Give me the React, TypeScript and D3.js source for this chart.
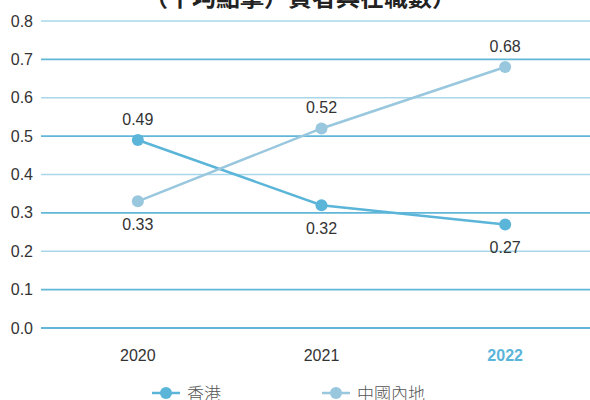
import React from 'react';
import * as d3 from 'd3';

const years = ['2020', '2021', '2022'];
const hongKong = [0.49, 0.32, 0.27];
const mainland = [0.33, 0.52, 0.68];
const yTicks = [0, 0.1, 0.2, 0.3, 0.4, 0.5, 0.6, 0.7, 0.8];
const seriesNames = ['香港', '中國內地'];

const W = 590;
const H = 400;
const DARK = '#5bb5d9';
const LIGHT = '#98c7de';
const FONT = '"Liberation Sans", Arial, sans-serif';
const CJK = '"Noto Sans CJK TC", "Noto Sans CJK SC", sans-serif';

const App: React.FC = () => {
  const x = d3.scalePoint<string>().domain(years).range([46, 597]).padding(0.5);
  const y = d3.scaleLinear().domain([0, 0.8]).range([328, 21]);

  const line = d3
    .line<number>()
    .x((_, i) => x(years[i]) as number)
    .y((d) => y(d));

  const series = [
    { name: seriesNames[0], values: hongKong, color: DARK, above: [true, false, false] },
    { name: seriesNames[1], values: mainland, color: LIGHT, above: [false, true, true] },
  ];

  return (
    <svg
      width={W}
      height={H}
      style={{ position: 'absolute', left: 0, top: 0, background: '#fff' }}
    >
      {/* clipped title */}
      <text
        x={300}
        y={6}
        textAnchor="middle"
        fontFamily={CJK}
        fontWeight="bold"
        fontSize={24}
        fill="#222"
      >
        （平均點擊）資者與在職數）
      </text>

      {/* gridlines */}
      {yTicks.map((t, i) => (
        <g key={t}>
          <line
            x1={41}
            x2={W}
            y1={y(t)}
            y2={y(t)}
            stroke={i === 0 || i % 2 === 1 ? '#62b7d8' : '#a9d7e9'}
            strokeWidth={i === 0 ? 2 : 1.6}
          />
          <text
            x={33}
            y={y(t)}
            dy="0.35em"
            textAnchor="end"
            fontFamily={FONT}
            fontSize={16}
            fill="#333"
          >
            {t.toFixed(1)}
          </text>
        </g>
      ))}

      {/* x labels */}
      {years.map((yr, i) => (
        <text
          key={yr}
          x={x(yr)}
          y={361}
          textAnchor="middle"
          fontFamily={FONT}
          fontSize={16}
          fontWeight={i === years.length - 1 ? 'bold' : 'normal'}
          fill={i === years.length - 1 ? DARK : '#333'}
        >
          {yr}
        </text>
      ))}

      {/* series */}
      {series.map((s) => (
        <g key={s.name}>
          <path d={line(s.values) || ''} fill="none" stroke={s.color} strokeWidth={2.5} />
          {s.values.map((v, i) => (
            <g key={i}>
              <circle cx={x(years[i])} cy={y(v)} r={6} fill={s.color} />
              <text
                x={x(years[i])}
                y={s.above[i] ? y(v) - 15 : y(v) + 29}
                textAnchor="middle"
                fontFamily={FONT}
                fontSize={16}
                fill="#333"
              >
                {v.toFixed(2)}
              </text>
            </g>
          ))}
        </g>
      ))}

      {/* legend */}
      {series.map((s, i) => {
        const lx = i === 0 ? 152 : 322;
        return (
          <g key={s.name} transform={`translate(${lx},393)`}>
            <line x1={0} x2={28} y1={0} y2={0} stroke={s.color} strokeWidth={2.5} />
            <circle cx={14} cy={0} r={6} fill={s.color} />
            <text
              x={35}
              y={0}
              dy="0.42em"
              fontFamily={CJK}
              fontWeight={300}
              fontSize={17}
              fill="#555"
            >
              {s.name}
            </text>
          </g>
        );
      })}
    </svg>
  );
};

export default App;
